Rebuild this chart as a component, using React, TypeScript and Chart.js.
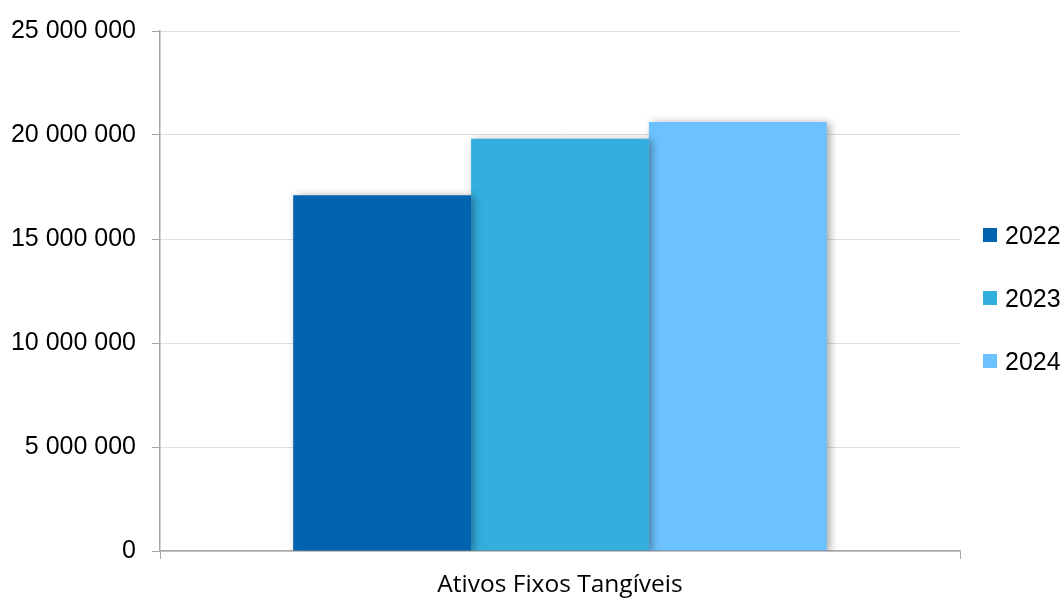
import React, { useEffect, useRef } from "react";
import { Chart, registerables } from "chart.js";

Chart.register(...registerables);

const categories = ["Ativos Fixos Tangíveis"];
const seriesNames = ["2022", "2023", "2024"];
const values2022 = [17100000];
const values2023 = [19820000];
const values2024 = [20630000];
const seriesColors = ["#0063AF", "#33AFDD", "#6CC2FE"];
const yMax = 25000000;
const yStep = 5000000;

const fmt = (v: number) => String(Math.round(v)).replace(/\B(?=(\d{3})+(?!\d))/g, " ");

const shadowPlugin = {
  id: "barShadow",
  beforeDatasetsDraw(chart: any) {
    const ctx = chart.ctx;
    ctx.save();
    ctx.shadowColor = "rgba(0,0,0,0.35)";
    ctx.shadowBlur = 8;
    ctx.shadowOffsetX = 3;
    ctx.shadowOffsetY = 1;
  },
  afterDatasetsDraw(chart: any) {
    chart.ctx.restore();
  },
};

export default function App() {
  const ref = useRef<HTMLCanvasElement>(null);
  useEffect(() => {
    document.body.style.margin = "0";
    const seriesData = [values2022, values2023, values2024];
    const chart = new Chart(ref.current!, {
      type: "bar",
      data: {
        labels: categories,
        datasets: seriesNames.map((n, i) => ({
          label: n,
          data: seriesData[i],
          backgroundColor: seriesColors[i],
          borderWidth: 0,
          categoryPercentage: 0.667,
          barPercentage: 1.0,
        })),
      },
      plugins: [shadowPlugin],
      options: {
        animation: false,
        responsive: true,
        maintainAspectRatio: false,
        layout: { padding: { top: 26, right: 103, left: 0, bottom: 0 } },
        plugins: { legend: { display: false }, tooltip: { enabled: false } },
        scales: {
          x: {
            afterFit: (a: any) => { a.height = 48; },
            grid: {
              display: true,
              drawOnChartArea: false,
              tickLength: 8,
              tickColor: "#a6a6a6",
              offset: true,
            },
            border: { color: "#a6a6a6", width: 1.5 },
            ticks: {
              color: "#000",
              padding: 11,
              font: { family: "'Open Sans', sans-serif", size: 24.5 },
            },
          },
          y: {
            min: 0,
            max: yMax,
            afterFit: (a: any) => { a.width = 160; },
            ticks: {
              stepSize: yStep,
              color: "#000",
              padding: 16,
              font: { family: "'Liberation Sans', Arial, sans-serif", size: 25 },
              callback: (v: any) => fmt(Number(v)),
            },
            grid: {
              color: "#dedede",
              tickColor: "#a6a6a6",
              tickLength: 8,
            },
            border: { color: "#a6a6a6", width: 1.5 },
          },
        },
      },
    });
    return () => chart.destroy();
  }, []);

  return (
    <div style={{ position: "absolute", left: 0, top: 0, width: 1063, height: 599 }}>
      <canvas ref={ref} />
      <div style={{ position: "absolute", left: 983, top: 221 }}>
        {seriesNames.map((n, i) => (
          <div
            key={n}
            style={{
              display: "flex",
              alignItems: "center",
              height: 28,
              marginBottom: 35,
              fontFamily: "'Liberation Sans', Arial, sans-serif",
              fontSize: 25,
              color: "#000",
            }}
          >
            <span style={{ width: 14, height: 14, background: seriesColors[i], display: "inline-block", marginRight: 8 }} />
            <span>{n}</span>
          </div>
        ))}
      </div>
    </div>
  );
}
